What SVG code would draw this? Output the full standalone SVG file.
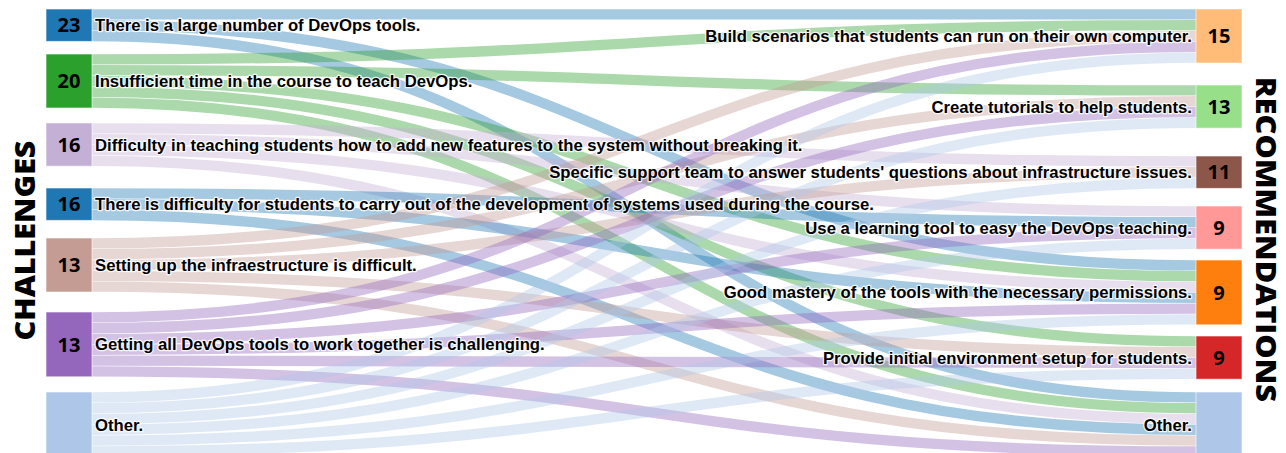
<svg xmlns="http://www.w3.org/2000/svg" width="1286" height="453" viewBox="0 0 1286 453">
<style>
.lk{fill:none;stroke-width:10.3;stroke-opacity:.4}
.s0{stroke:#1f77b4}.s1{stroke:#2ca02c}.s2{stroke:#c5b0d5}.s3{stroke:#1f77b4}.s4{stroke:#c49c94}.s5{stroke:#9467bd}.s6{stroke:#aec7e8}
.nd{stroke:#fff;stroke-opacity:.6;stroke-width:1}
.num{font-family:"Open Sans","Liberation Sans",sans-serif;font-weight:700;font-size:20px;fill:#000;text-anchor:middle}
.lab{font-family:"Liberation Sans",Arial,sans-serif;font-weight:700;font-size:16.7px;fill:#000;stroke:#fff;stroke-width:2.5px;stroke-opacity:.85;paint-order:stroke;stroke-linejoin:round}
.ll{text-anchor:start}.rl{text-anchor:end}
.ttl{font-family:"Open Sans","Liberation Sans",sans-serif;font-weight:800;fill:#000;text-anchor:middle}
</style>
<rect width="1286" height="453" fill="#fff"/>
<g id="links">
<path class="lk s0" d="M92,14.4C644,14.4 644,14.4 1196,14.4"/>
<path class="lk s0" d="M92,25.2C644,25.2 644,265.4 1196,265.4"/>
<path class="lk s0" d="M92,36C644,36 644,397.4 1196,397.4"/>
<path class="lk s1" d="M92,59.4C644,59.4 644,25.2 1196,25.2"/>
<path class="lk s1" d="M92,70.2C644,70.2 644,90.4 1196,90.4"/>
<path class="lk s1" d="M92,81C644,81 644,276.2 1196,276.2"/>
<path class="lk s1" d="M92,91.8C644,91.8 644,341.4 1196,341.4"/>
<path class="lk s1" d="M92,102.6C644,102.6 644,408.2 1196,408.2"/>
<path class="lk s2" d="M92,128.4C644,128.4 644,161.4 1196,161.4"/>
<path class="lk s2" d="M92,139.2C644,139.2 644,211.4 1196,211.4"/>
<path class="lk s2" d="M92,150C644,150 644,287 1196,287"/>
<path class="lk s2" d="M92,160.8C644,160.8 644,419 1196,419"/>
<path class="lk s3" d="M92,193.4C644,193.4 644,222.2 1196,222.2"/>
<path class="lk s3" d="M92,204.2C644,204.2 644,297.8 1196,297.8"/>
<path class="lk s3" d="M92,215C644,215 644,429.8 1196,429.8"/>
<path class="lk s4" d="M92,243.4C644,243.4 644,36 1196,36"/>
<path class="lk s4" d="M92,254.2C644,254.2 644,101.2 1196,101.2"/>
<path class="lk s4" d="M92,265C644,265 644,172.2 1196,172.2"/>
<path class="lk s4" d="M92,275.8C644,275.8 644,352.2 1196,352.2"/>
<path class="lk s4" d="M92,286.6C644,286.6 644,440.6 1196,440.6"/>
<path class="lk s5" d="M92,317.4C644,317.4 644,46.8 1196,46.8"/>
<path class="lk s5" d="M92,328.2C644,328.2 644,112 1196,112"/>
<path class="lk s5" d="M92,339C644,339 644,233 1196,233"/>
<path class="lk s5" d="M92,349.8C644,349.8 644,308.6 1196,308.6"/>
<path class="lk s5" d="M92,360.6C644,360.6 644,363 1196,363"/>
<path class="lk s5" d="M92,371.4C644,371.4 644,451.4 1196,451.4"/>
<path class="lk s6" d="M92,397.4C644,397.4 644,57.6 1196,57.6"/>
<path class="lk s6" d="M92,408.2C644,408.2 644,122.8 1196,122.8"/>
<path class="lk s6" d="M92,419C644,419 644,183 1196,183"/>
<path class="lk s6" d="M92,429.8C644,429.8 644,243.8 1196,243.8"/>
<path class="lk s6" d="M92,440.6C644,440.6 644,319.4 1196,319.4"/>
<path class="lk s6" d="M92,451.4C644,451.4 644,373.8 1196,373.8"/>
<path class="lk s6" d="M92,462.2C644,462.2 644,462.2 1196,462.2"/>
</g>
<g id="c0"><rect class="nd" x="46" y="9" width="46" height="32.4" fill="#1f77b4"/><text class="num" x="69" y="32.4">23</text><text class="lab ll" x="95" y="31.2">There is a large number of DevOps tools.</text></g>
<g id="c1"><rect class="nd" x="46" y="54" width="46" height="54" fill="#2ca02c"/><text class="num" x="69" y="88.2">20</text><text class="lab ll" x="95" y="87">Insufficient time in the course to teach DevOps.</text></g>
<g id="c2"><rect class="nd" x="46" y="123" width="46" height="43.2" fill="#c5b0d5"/><text class="num" x="69" y="151.8">16</text><text class="lab ll" x="95" y="150.6">Difficulty in teaching students how to add new features to the system without breaking it.</text></g>
<g id="c3"><rect class="nd" x="46" y="188" width="46" height="32.4" fill="#1f77b4"/><text class="num" x="69" y="211.4">16</text><text class="lab ll" x="95" y="210.2">There is difficulty for students to carry out of the development of systems used during the course.</text></g>
<g id="c4"><rect class="nd" x="46" y="238" width="46" height="54" fill="#c49c94"/><text class="num" x="69" y="272.2">13</text><text class="lab ll" x="95" y="271">Setting up the infraestructure is difficult.</text></g>
<g id="c5"><rect class="nd" x="46" y="312" width="46" height="64.8" fill="#9467bd"/><text class="num" x="69" y="351.6">13</text><text class="lab ll" x="95" y="350.4">Getting all DevOps tools to work together is challenging.</text></g>
<g id="c6"><rect class="nd" x="46" y="392" width="46" height="75.6" fill="#aec7e8"/><text class="lab ll" x="95" y="431">Other.</text></g>
<g id="r0"><rect class="nd" x="1196" y="9" width="46" height="54" fill="#ffbb78"/><text class="num" x="1219" y="43.2">15</text><text class="lab rl" x="1192" y="42">Build scenarios that students can run on their own computer.</text></g>
<g id="r1"><rect class="nd" x="1196" y="85" width="46" height="43.2" fill="#98df8a"/><text class="num" x="1219" y="113.8">13</text><text class="lab rl" x="1192" y="112.6">Create tutorials to help students.</text></g>
<g id="r2"><rect class="nd" x="1196" y="156" width="46" height="32.4" fill="#8c564b"/><text class="num" x="1219" y="179.4">11</text><text class="lab rl" x="1192" y="178.2">Specific support team to answer students' questions about infrastructure issues.</text></g>
<g id="r3"><rect class="nd" x="1196" y="206" width="46" height="43.2" fill="#ff9896"/><text class="num" x="1219" y="234.8">9</text><text class="lab rl" x="1192" y="233.6">Use a learning tool to easy the DevOps teaching.</text></g>
<g id="r4"><rect class="nd" x="1196" y="260" width="46" height="64.8" fill="#ff7f0e"/><text class="num" x="1219" y="299.6">9</text><text class="lab rl" x="1192" y="298.4">Good mastery of the tools with the necessary permissions.</text></g>
<g id="r5"><rect class="nd" x="1196" y="336" width="46" height="43.2" fill="#d62728"/><text class="num" x="1219" y="364.8">9</text><text class="lab rl" x="1192" y="363.6">Provide initial environment setup for students.</text></g>
<g id="r6"><rect class="nd" x="1196" y="392" width="46" height="75.6" fill="#aec7e8"/><text class="lab rl" x="1192" y="431">Other.</text></g>
<g id="titles">
<text class="ttl" font-size="28" textLength="200" lengthAdjust="spacingAndGlyphs" transform="translate(35,240.5) rotate(-90)">CHALLENGES</text>
<text class="ttl" font-size="28" textLength="325" lengthAdjust="spacingAndGlyphs" transform="translate(1256,239.5) rotate(90)">RECOMMENDATIONS</text>
</g>
</svg>
